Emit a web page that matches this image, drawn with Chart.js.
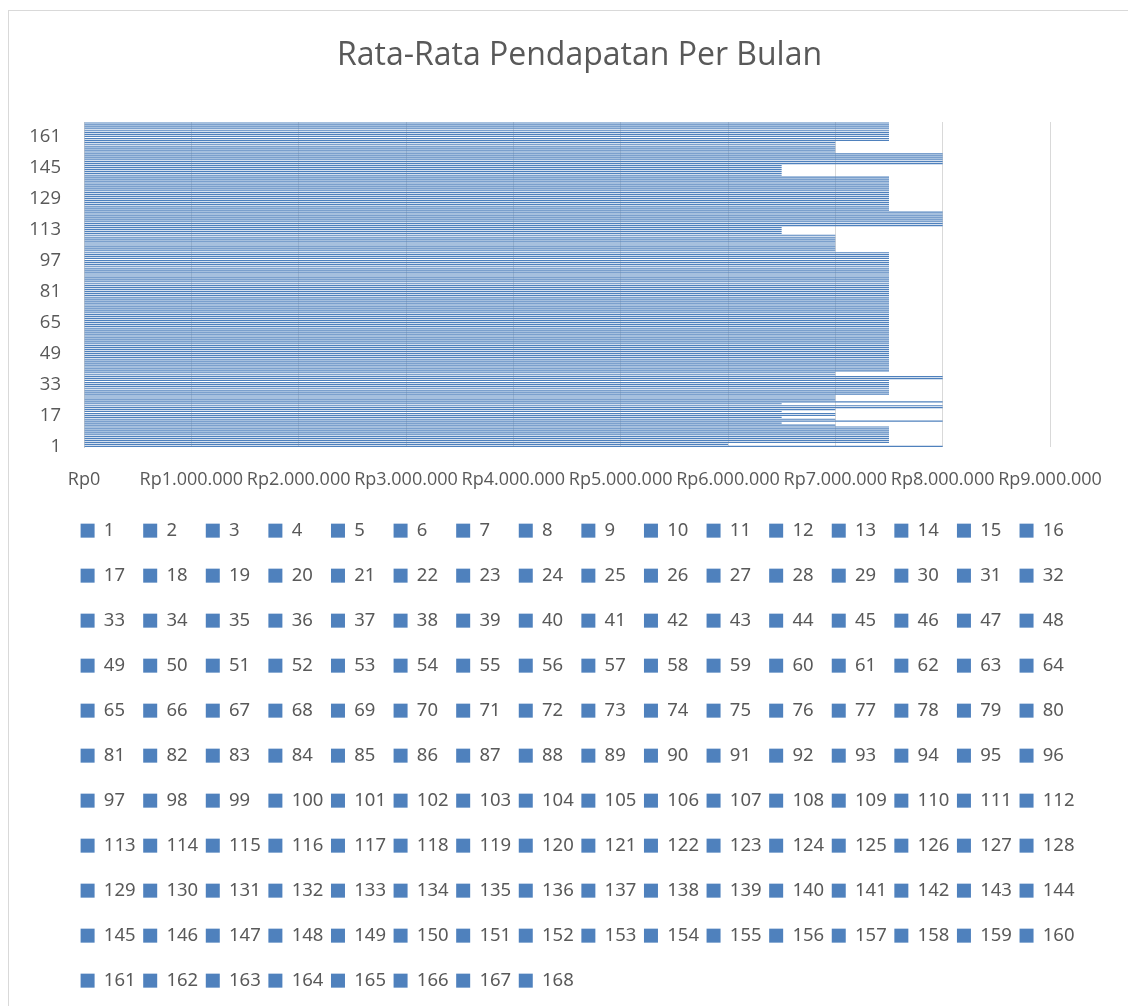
<!DOCTYPE html>
<html>
<head>
<meta charset="utf-8">
<script src="https://cdn.jsdelivr.net/npm/chart.js@4.4.1/dist/chart.umd.min.js"></script>
<style>
html,body{margin:0;padding:0;background:#ffffff;overflow:hidden;}
#wrap{position:relative;width:1128px;height:1006px;overflow:hidden;background:#ffffff;}
#frame{position:absolute;left:8px;top:10px;width:1200px;height:1100px;border:1px solid #D9D9D9;box-sizing:border-box;}
#box{position:absolute;left:0;top:0;width:1128px;height:1012px;}
</style>
</head>
<body>
<div id="wrap"><div id="frame"></div><div id="box"><canvas id="c"></canvas></div></div>
<script>
// Categories (respondent numbers)
const categories = [
  '1','2','3','4','5','6','7','8','9','10','11','12','13','14','15','16',
  '17','18','19','20','21','22','23','24','25','26','27','28','29','30','31','32',
  '33','34','35','36','37','38','39','40','41','42','43','44','45','46','47','48',
  '49','50','51','52','53','54','55','56','57','58','59','60','61','62','63','64',
  '65','66','67','68','69','70','71','72','73','74','75','76','77','78','79','80',
  '81','82','83','84','85','86','87','88','89','90','91','92','93','94','95','96',
  '97','98','99','100','101','102','103','104','105','106','107','108','109','110','111','112',
  '113','114','115','116','117','118','119','120','121','122','123','124','125','126','127','128',
  '129','130','131','132','133','134','135','136','137','138','139','140','141','142','143','144',
  '145','146','147','148','149','150','151','152','153','154','155','156','157','158','159','160',
  '161','162','163','164','165','166','167','168'
];

// Average monthly income (Rp) per category
const pendapatan = [
  8000000,6000000,7500000,7500000,7500000,7500000,7500000,7500000,7500000,7500000,7500000,7000000,
  6500000,8000000,7000000,6500000,7000000,7000000,6500000,7000000,8000000,8000000,6500000,8000000,
  7000000,7000000,7000000,7500000,7500000,7500000,7500000,7500000,7500000,7500000,7500000,8000000,
  8000000,7000000,7000000,7500000,7500000,7500000,7500000,7500000,7500000,7500000,7500000,7500000,
  7500000,7500000,7500000,7500000,7500000,7500000,7500000,7500000,7500000,7500000,7500000,7500000,
  7500000,7500000,7500000,7500000,7500000,7500000,7500000,7500000,7500000,7500000,7500000,7500000,
  7500000,7500000,7500000,7500000,7500000,7500000,7500000,7500000,7500000,7500000,7500000,7500000,
  7500000,7500000,7500000,7500000,7500000,7500000,7500000,7500000,7500000,7500000,7500000,7500000,
  7500000,7500000,7500000,7500000,7500000,7000000,7000000,7000000,7000000,7000000,7000000,7000000,
  7000000,7000000,6500000,6500000,6500000,6500000,8000000,8000000,8000000,8000000,8000000,8000000,
  8000000,8000000,7500000,7500000,7500000,7500000,7500000,7500000,7500000,7500000,7500000,7500000,
  7500000,7500000,7500000,7500000,7500000,7500000,7500000,7500000,6500000,6500000,6500000,6500000,
  6500000,6500000,8000000,8000000,8000000,8000000,8000000,8000000,7000000,7000000,7000000,7000000,
  7000000,7000000,7500000,7500000,7500000,7500000,7500000,7500000,7500000,7500000,7500000,7500000
];

// Category tick labels shown on the vertical axis
const yTickLabels = ['1','17','33','49','65','81','97','113','129','145','161'];

// Value axis range and step (Rp)
const xMin = 0;
const xMax = 9000000;
const xStep = 1000000;

const titleText = 'Rata-Rata Pendapatan Per Bulan';

function formatRp(v) {
  return 'Rp' + String(Math.round(v)).replace(/\B(?=(\d{3})+(?!\d))/g, '.');
}

const TEXT = '#595959';
const BAR = '#4F81BD';

// legend geometry (style only)
const LEG_FONT = 18.5, LEG_BOXW = 14, LEG_BOXH = 37.4, LEG_PAD = 7.6, LEG_SQ = 14;
const TICK_FONT = 18.5;

const canvas = document.getElementById('c');
const cctx = canvas.getContext('2d');

// square marker used as the legend box fill (a 14px square centred on each legend row)
const tile = document.createElement('canvas');
tile.width = 1; tile.height = 45;
const tctx = tile.getContext('2d');
tctx.fillStyle = BAR;
tctx.fillRect(0, 0, 1, LEG_SQ);
const legendFill = cctx.createPattern(tile, 'repeat');

cctx.font = TICK_FONT + 'px "Open Sans"';
const yWidest = cctx.measureText('161').width;

const legendSquarePlugin = {
  id: 'legendSquare',
  afterLayout(chart) {
    const lg = chart.legend;
    const sqTop = lg.top + LEG_PAD + LEG_BOXH / 2 - LEG_SQ / 2;
    legendFill.setTransform(new DOMMatrix().translate(0, sqTop));
  }
};

new Chart(canvas, {
  type: 'bar',
  data: {
    labels: categories,
    datasets: [{
      label: titleText,
      data: pendapatan,
      backgroundColor: BAR,
      borderWidth: 0,
      barPercentage: 0.6,
      categoryPercentage: 1
    }]
  },
  plugins: [legendSquarePlugin],
  options: {
    indexAxis: 'y',
    responsive: true,
    maintainAspectRatio: false,
    animation: false,
    events: [],
    layout: { padding: { left: 73, right: 42, top: 0, bottom: 3.3 } },
    scales: {
      x: {
        min: xMin,
        max: xMax,
        ticks: {
          stepSize: xStep,
          autoSkip: false,
          maxRotation: 0,
          minRotation: 0,
          padding: 21.5,
          color: TEXT,
          font: { family: '"Open Sans"', size: 18 },
          callback: (v) => formatRp(v)
        },
        grid: { color: '#D9D9D9', lineWidth: 1, drawTicks: false },
        border: { display: false },
        afterFit: (s) => { s.height = 57; s.paddingRight = 78; }
      },
      y: {
        reverse: true,
        ticks: {
          autoSkip: false,
          mirror: true,
          crossAlign: 'far',
          padding: -(23 + yWidest),
          color: TEXT,
          font: { family: '"Open Sans"', size: TICK_FONT },
          callback: function (val) {
            const lab = this.getLabelForValue(val);
            return yTickLabels.includes(lab) ? lab : '';
          }
        },
        grid: { display: false, drawTicks: false },
        border: { display: true, color: '#D0D0D0', width: 1 },
        afterFit: (s) => { s.width = 11; }
      }
    },
    plugins: {
      title: {
        display: true,
        text: titleText,
        color: TEXT,
        font: { family: '"Open Sans"', size: 32, weight: 'normal' },
        padding: { top: 36.5, bottom: 47.1 }
      },
      legend: {
        display: true,
        position: 'bottom',
        align: 'start',
        onClick: null,
        labels: {
          boxWidth: LEG_BOXW,
          boxHeight: LEG_BOXH,
          padding: LEG_PAD,
          color: TEXT,
          font: { family: '"Noto Sans"', size: LEG_FONT },
          generateLabels: () => categories.map((c, i) => ({
            text: c + '\u2007'.repeat(3 - c.length),
            fillStyle: legendFill,
            strokeStyle: 'rgba(0,0,0,0)',
            lineWidth: 0,
            hidden: false,
            index: i,
            datasetIndex: 0,
            fontColor: TEXT
          }))
        }
      },
      tooltip: { enabled: false }
    }
  }
});
</script>
</body>
</html>
